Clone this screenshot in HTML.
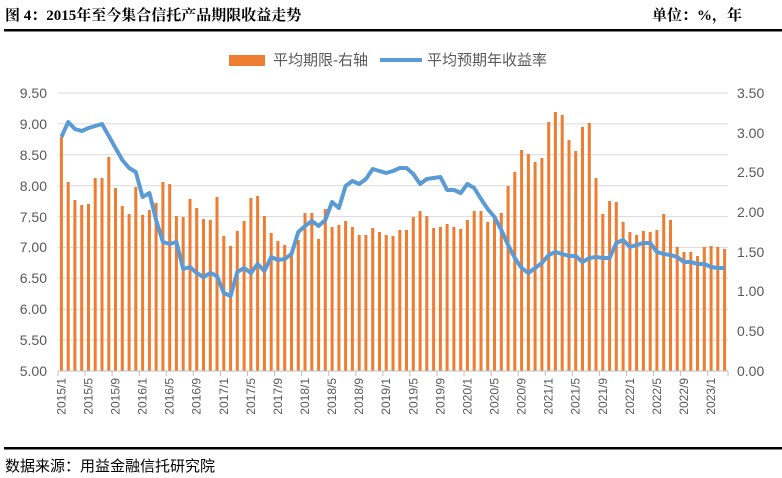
<!DOCTYPE html>
<html><head><meta charset="utf-8"><style>
body{margin:0;background:#fff;width:782px;height:478px;overflow:hidden}
svg{display:block}
.t{font-family:"Liberation Serif","Noto Serif CJK SC",serif;font-weight:bold;font-size:15px;fill:#000}
.a{font-family:"Liberation Sans","Noto Sans CJK SC",sans-serif;font-size:14px;fill:#595959}
.x{font-family:"Liberation Sans","Noto Sans CJK SC",sans-serif;font-size:12px;fill:#595959}
.l{font-family:"Liberation Sans","Noto Sans CJK SC",sans-serif;font-size:15px;fill:#595959}
.s{font-family:"Liberation Sans","Noto Sans CJK SC",sans-serif;font-size:15px;fill:#000}
</style></head><body>
<svg id="c" width="782" height="478" xmlns="http://www.w3.org/2000/svg">
<text class="t" x="5" y="20">图 4：2015年至今集合信托产品期限收益走势</text>
<text class="t" x="652" y="20">单位：%，年</text>
<rect x="4" y="29" width="778" height="2.5" fill="#000"/>
<rect x="229" y="55" width="36" height="11" fill="#ED7D31"/>
<text class="l" x="273" y="65">平均期限-右轴</text>
<line x1="380" y1="60" x2="422" y2="60" stroke="#5B9BD5" stroke-width="4"/>
<text class="l" x="427" y="65">平均预期年收益率</text>
<g stroke="#d9d9d9" stroke-width="1" id="grid"></g>
<g class="a" text-anchor="end">
<text x="47" y="98">9.50</text><text x="47" y="129">9.00</text><text x="47" y="160">8.50</text><text x="47" y="191">8.00</text><text x="47" y="222">7.50</text><text x="47" y="252">7.00</text><text x="47" y="283">6.50</text><text x="47" y="314">6.00</text><text x="47" y="345">5.50</text><text x="47" y="376">5.00</text>
</g>
<g class="a">
<text x="737" y="98">3.50</text><text x="737" y="138">3.00</text><text x="737" y="177">2.50</text><text x="737" y="217">2.00</text><text x="737" y="257">1.50</text><text x="737" y="296">1.00</text><text x="737" y="336">0.50</text><text x="737" y="376">0.00</text>
</g>
<g id="bars" fill="#ED7D31"></g>
<polyline id="ln" fill="none" stroke="#5B9BD5" stroke-width="4" stroke-linejoin="round"/>
<line x1="58" y1="371" x2="728" y2="371" stroke="#bfbfbf"/>
<g id="ticks" stroke="#bfbfbf"></g>
<g class="x" id="xl">
<text>2015/1</text><text>2015/5</text><text>2015/9</text><text>2016/1</text><text>2016/5</text><text>2016/9</text><text>2017/1</text><text>2017/5</text><text>2017/9</text><text>2018/1</text><text>2018/5</text><text>2018/9</text><text>2019/1</text><text>2019/5</text><text>2019/9</text><text>2020/1</text><text>2020/5</text><text>2020/9</text><text>2021/1</text><text>2021/5</text><text>2021/9</text><text>2022/1</text><text>2022/5</text><text>2022/9</text><text>2023/1</text>
</g>
<rect x="4" y="447" width="778" height="2.5" fill="#000"/>
<text class="s" x="5" y="471">数据来源：用益金融信托研究院</text>
</svg>
<script>
var NS="http://www.w3.org/2000/svg";
var bars=[137,182,200,205,204,178,178,157,188,206,214,187,215,210,203,182,184,216,217,199,208,219,220,197,236,246,231,221,198,196,
216,233,241,245,255,240,213,213,239,209,227,225,221,227,235,235,228,232,235,236,230,230,217,211,216,228,227,224,227,229,220,211,211,222,218,213,186,172,150,
154,162,158,122,112,115,140,151,127,123,178,214,201,202,222,232,235,231,232,230,214,220,247,252,252,256,247,246,247,249];
var line=[137,122,129,131,128,126,124,136,148,160,168,172,197,193,220,242,244,242,269,267,273,277,273,276,293,296,272,268,
273,264,271,257,260,259,254,232,226,221,226,220,202,208,186,181,184,179,169,171,173,171,168,168,174,184,179,178,177,190,190,193,184,188,199,209,217,230,245,258,268,
273,268,263,255,252,254,256,256,262,258,257,258,258,243,240,247,245,243,243,252,254,255,257,262,262,264,264,267,268,268];
var dx=670/99;
var g=document.getElementById("bars");
for(var i=0;i<bars.length;i++){var r=document.createElementNS(NS,"rect");var x=58+dx*(i+0.5);
r.setAttribute("x",(x-1.5).toFixed(1));r.setAttribute("y",bars[i]);r.setAttribute("width",3);r.setAttribute("height",371-bars[i]);g.appendChild(r);}
var pts=[];for(var i=0;i<line.length;i++){pts.push((58+dx*(i+0.5)).toFixed(1)+","+line[i]);}
document.getElementById("ln").setAttribute("points",pts.join(" "));
var gr=document.getElementById("grid");
for(var k=0;k<9;k++){var y=93+k*278/9;var l=document.createElementNS(NS,"line");l.setAttribute("x1",58);l.setAttribute("x2",728);l.setAttribute("y1",y.toFixed(1));l.setAttribute("y2",y.toFixed(1));gr.appendChild(l);}
var tk=document.getElementById("ticks");
for(var k=0;k<=25;k++){var x=Math.min(58+dx*4*k,728);var l=document.createElementNS(NS,"line");l.setAttribute("x1",x);l.setAttribute("x2",x);l.setAttribute("y1",371);l.setAttribute("y2",376);tk.appendChild(l);}
var ts=document.querySelectorAll("#xl text");
for(var k=0;k<ts.length;k++){var x=58+dx*(4*k+0.5)+4;ts[k].setAttribute("text-anchor","end");ts[k].setAttribute("transform","translate("+x.toFixed(1)+",378) rotate(-90)");}
</script>
</body></html>
